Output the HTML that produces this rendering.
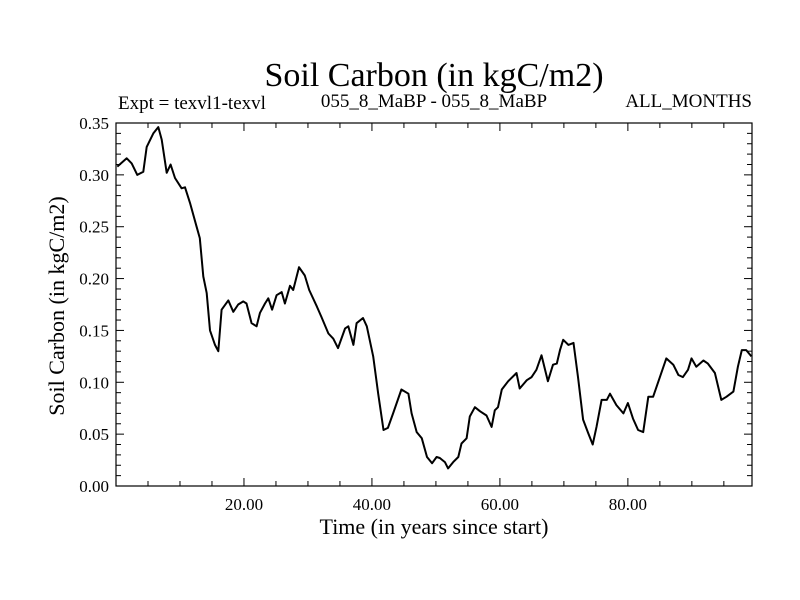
<!DOCTYPE html>
<html><head><meta charset="utf-8"><style>
body{margin:0;background:#fff;}
svg{display:block;font-family:"Liberation Serif",serif;}
</style></head><body>
<svg id="chart" width="800" height="600">
<text x="434" y="86" font-size="34" text-anchor="middle">Soil Carbon (in kgC/m2)</text>
<text x="118" y="109" font-size="19">Expt = texvl1-texvl</text>
<text x="434" y="107" font-size="19" text-anchor="middle">055_8_MaBP - 055_8_MaBP</text>
<text x="752" y="107" font-size="19" text-anchor="end">ALL_MONTHS</text>
<text x="434" y="534" font-size="22" text-anchor="middle">Time (in years since start)</text>
<text transform="translate(64,306) rotate(-90)" font-size="22" text-anchor="middle">Soil Carbon (in kgC/m2)</text>
<g id="axes"></g>
<g id="series"></g>
</svg>
<script>
const years=[0.2,1.67,2.45,3.33,4.27,4.8,5.83,6.61,7.14,7.92,8.54,9.22,10.26,10.78,11.56,12.6,13.1,13.65,14.17,14.69,15.47,15.99,16.5,17.55,18.33,19.1,19.9,20.4,21.2,21.98,22.5,23.28,23.8,24.4,25.1,25.9,26.4,27.2,27.7,28.6,29.5,30.2,31.4,32.1,33.2,33.96,34.7,35.8,36.3,37.1,37.6,38.6,39.2,40.2,40.98,41.8,42.5,43.3,44.6,45.7,46.2,46.99,47.8,48.6,49.4,50.1,50.6,51.4,51.9,52.7,53.5,54.0,54.8,55.3,56.1,56.9,57.9,58.7,59.2,59.7,60.3,61.3,62.6,63.1,64.2,64.95,65.7,66.5,67.5,68.3,68.9,69.4,69.9,70.7,71.5,72.2,73.0,73.8,74.5,75.1,75.9,76.7,77.2,78.2,79.3,80.0,80.8,81.6,82.4,83.2,83.95,85.0,86.0,87.1,87.9,88.6,89.4,89.95,90.7,91.8,92.5,93.6,94.6,95.4,96.5,97.2,97.8,98.5,99.3];
const carbon=[0.308,0.316,0.311,0.300,0.303,0.327,0.340,0.346,0.334,0.302,0.310,0.297,0.287,0.288,0.273,0.250,0.239,0.202,0.186,0.150,0.136,0.130,0.170,0.179,0.168,0.175,0.178,0.176,0.157,0.154,0.167,0.176,0.181,0.170,0.184,0.187,0.176,0.193,0.189,0.211,0.203,0.189,0.173,0.163,0.147,0.142,0.133,0.152,0.154,0.136,0.157,0.162,0.154,0.125,0.089,0.054,0.056,0.070,0.093,0.089,0.070,0.052,0.046,0.028,0.022,0.028,0.027,0.023,0.017,0.023,0.028,0.041,0.046,0.067,0.076,0.072,0.068,0.057,0.073,0.076,0.093,0.101,0.109,0.094,0.102,0.105,0.112,0.126,0.101,0.117,0.118,0.131,0.141,0.136,0.138,0.105,0.064,0.051,0.040,0.057,0.083,0.083,0.089,0.078,0.070,0.080,0.065,0.054,0.052,0.086,0.086,0.105,0.123,0.117,0.107,0.105,0.112,0.123,0.115,0.121,0.118,0.109,0.083,0.086,0.091,0.115,0.131,0.131,0.125];
const xTickLabels=["20.00","40.00","60.00","80.00"];
const xTickValues=[20,40,60,80];
const yTickValues=[0,0.05,0.1,0.15,0.2,0.25,0.3,0.35];
const yTickLabels=["0.00","0.05","0.10","0.15","0.20","0.25","0.30","0.35"];

const L=116,R=752,T=123,B=486,XMAX=99.4,YMAX=0.35;
const xs=v=>L+(v/XMAX)*(R-L);
const ys=v=>B-(v/YMAX)*(B-T);
const NS="http://www.w3.org/2000/svg";
const axes=document.getElementById('axes'),series=document.getElementById('series');
function mk(tag,attrs,parent){const e=document.createElementNS(NS,tag);for(const k in attrs)e.setAttribute(k,attrs[k]);parent.appendChild(e);return e;}

const frame=mk('rect',{x:L,y:T,width:R-L,height:B-T,fill:'none',stroke:'#000','stroke-width':1.2},axes);



for(let v=5;v<XMAX;v+=5){
  const x=xs(v),len=(v%20===0)?8:5;
  const t1=mk('line',{x1:x,x2:x,y1:B,y2:B-len,stroke:'#000'},axes);
  
  
  const t2=mk('line',{x1:x,x2:x,y1:T,y2:T+len,stroke:'#000'},axes);
  
  
}
for(let i=1;i<35;i++){
  const v=i*0.01,y=ys(v),len=(i%5===0)?8:5;
  const t1=mk('line',{x1:L,x2:L+len,y1:y,y2:y,stroke:'#000'},axes);
  
  
  const t2=mk('line',{x1:R,x2:R-len,y1:y,y2:y,stroke:'#000'},axes);
  
  
}
xTickValues.forEach((v,i)=>{
  const t=mk('text',{x:xs(v),y:510,'font-size':17,'text-anchor':'middle'},axes);
  t.textContent=xTickLabels[i];
  
  
});
yTickValues.forEach((v,i)=>{
  const t=mk('text',{x:109,y:ys(v)+6,'font-size':17,'text-anchor':'end'},axes);
  t.textContent=yTickLabels[i];
  
  
});
const d=years.map((t,i)=>(i?'L':'M')+xs(t).toFixed(1)+','+ys(carbon[i]).toFixed(1)).join(' ');
const line=mk('path',{d:d,fill:'none',stroke:'#000','stroke-width':2,'stroke-linejoin':'round'},series);


</script>
</body></html>
